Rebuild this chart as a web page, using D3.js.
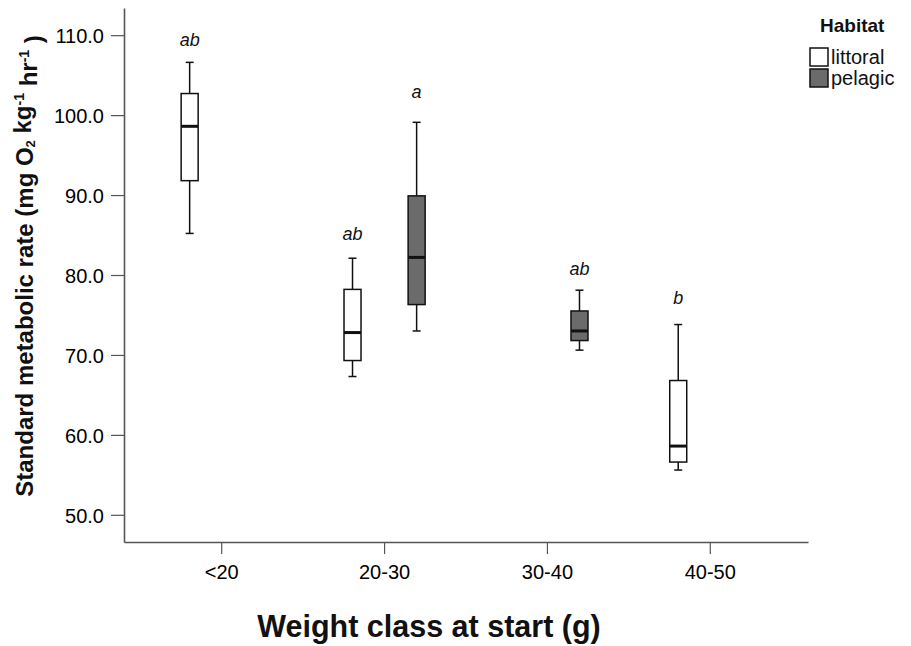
<!DOCTYPE html>
<html>
<head>
<meta charset="utf-8">
<script src="https://cdn.jsdelivr.net/npm/d3@7"></script>
<style>
  body { margin: 0; background: #fff; }
  svg { display: block; font-family: "Liberation Sans", Arial, sans-serif; }
</style>
</head>
<body>
<svg id="chart" width="911" height="646"></svg>
<script>
// ---- data ----
const categories = ["<20", "20-30", "30-40", "40-50"];
const habitats = ["littoral", "pelagic"];
const habitatColors = ["#ffffff", "#6b6b6b"];
const yTicks = [50, 60, 70, 80, 90, 100, 110];
// box stats per group
const boxCategory = ["<20", "20-30", "20-30", "30-40", "40-50"];
const boxHabitat  = ["littoral", "littoral", "pelagic", "pelagic", "littoral"];
const whiskerLow  = [85.2, 67.3, 73.0, 70.6, 55.6];
const q1Values    = [91.8, 69.3, 76.3, 71.8, 56.6];
const medians     = [98.6, 72.8, 82.2, 73.0, 58.6];
const q3Values    = [102.7, 78.2, 89.9, 75.5, 66.8];
const whiskerHigh = [106.6, 82.1, 99.1, 78.1, 73.8];
const sigLetters  = ["ab", "ab", "a", "ab", "b"];
const letterPos   = [108.6, 84.4, 102.1, 80.0, 76.4];

const svg = d3.select("#chart");

const x0 = d3.scaleBand().domain(categories).range([124, 808]).paddingInner(0).paddingOuter(0.1);
const x1 = d3.scaleBand().domain(habitats).range([0, x0.bandwidth()]).paddingInner(0).paddingOuter(0.27);
const y = d3.scaleLinear().domain([46.6, 113.4]).range([542, 8]);
const color = d3.scaleOrdinal().domain(habitats).range(habitatColors);
const boxW = 17, capW = 8;
const axisColor = "#555";

// axes
const yAxis = svg.append("g").attr("transform", "translate(124,0)")
  .call(d3.axisLeft(y).tickValues(yTicks).tickSize(13).tickSizeOuter(0).tickPadding(7).tickFormat(d3.format(".1f")));
const xAxis = svg.append("g").attr("transform", "translate(0,542)")
  .call(d3.axisBottom(x0).tickSize(12).tickSizeOuter(0).tickPadding(9));
[yAxis, xAxis].forEach(g => {
  g.select(".domain").attr("stroke", axisColor).attr("stroke-width", 1.6);
  g.selectAll(".tick line").attr("stroke", axisColor).attr("stroke-width", 1.2);
  g.selectAll(".tick text").attr("fill", "#000").style("font-size", "20px");
});
yAxis.selectAll(".tick text").attr("dy", "0.38em");
xAxis.selectAll(".tick text").attr("dy", "0.82em");

// boxes
const groups = boxCategory.map((c, i) => ({
  cx: x0(c) + x1(boxHabitat[i]) + x1.bandwidth() / 2,
  hab: boxHabitat[i], lo: whiskerLow[i], q1: q1Values[i], med: medians[i],
  q3: q3Values[i], hi: whiskerHigh[i], letter: sigLetters[i], lpos: letterPos[i]
}));

const g = svg.append("g");
groups.forEach(d => {
  const s = g.append("g").attr("stroke", "#111").attr("stroke-width", 1.5).attr("fill", "none");
  s.append("line").attr("x1", d.cx).attr("x2", d.cx).attr("y1", y(d.hi)).attr("y2", y(d.q3));
  s.append("line").attr("x1", d.cx).attr("x2", d.cx).attr("y1", y(d.q1)).attr("y2", y(d.lo));
  s.append("line").attr("x1", d.cx - capW / 2).attr("x2", d.cx + capW / 2).attr("y1", y(d.hi)).attr("y2", y(d.hi));
  s.append("line").attr("x1", d.cx - capW / 2).attr("x2", d.cx + capW / 2).attr("y1", y(d.lo)).attr("y2", y(d.lo));
  s.append("rect").attr("x", d.cx - boxW / 2).attr("y", y(d.q3)).attr("width", boxW)
    .attr("height", y(d.q1) - y(d.q3)).attr("fill", color(d.hab));
  s.append("line").attr("x1", d.cx - boxW / 2).attr("x2", d.cx + boxW / 2)
    .attr("y1", y(d.med)).attr("y2", y(d.med)).attr("stroke-width", 3);
  g.append("text").attr("x", d.cx).attr("y", y(d.lpos)).attr("text-anchor", "middle")
    .style("font-size", "18px").style("font-style", "italic").attr("fill", "#111").text(d.letter);
});

// y-axis title
const yt = svg.append("text").attr("transform", "translate(33,266) rotate(-90)")
  .attr("text-anchor", "middle").style("font-size", "24px").style("font-weight", "bold").attr("fill", "#111");
yt.append("tspan").text("Standard metabolic rate (mg O");
yt.append("tspan").attr("dy", "0.15em").style("font-size", "13px").text("2");
yt.append("tspan").attr("dy", "-0.15em").text(" kg");
yt.append("tspan").attr("dy", "-0.55em").style("font-size", "14px").text("-1");
yt.append("tspan").attr("dy", "0.55em").text(" hr");
yt.append("tspan").attr("dy", "-0.55em").style("font-size", "14px").text("-1");
yt.append("tspan").attr("dy", "0.55em").text(" )");

// x-axis title
svg.append("text").attr("x", 429).attr("y", 637).attr("text-anchor", "middle")
  .style("font-size", "30.5px").style("font-weight", "bold").attr("fill", "#111")
  .text("Weight class at start (g)");

// legend
const lg = svg.append("g");
lg.append("text").attr("x", 820).attr("y", 32).style("font-size", "19px").style("font-weight", "bold")
  .attr("fill", "#111").text("Habitat");
habitats.forEach((h, i) => {
  lg.append("rect").attr("x", 810).attr("y", 48 + i * 21).attr("width", 18).attr("height", 18)
    .attr("fill", color(h)).attr("stroke", "#111").attr("stroke-width", 1.5);
  lg.append("text").attr("x", 831).attr("y", 64 + i * 21).style("font-size", "20px")
    .attr("fill", "#111").text(h);
});
</script>
</body>
</html>
